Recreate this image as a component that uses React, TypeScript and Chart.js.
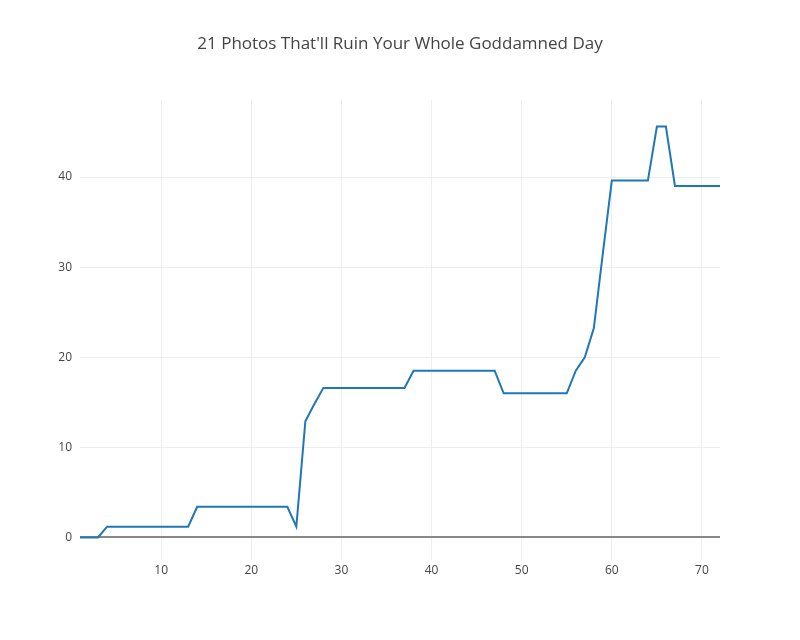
import { useEffect, useRef } from "react";
import { Chart, registerables } from "chart.js";

Chart.register(...registerables);

const days = Array.from({ length: 72 }, (_, i) => i + 1);
const values = [
  0, 0, 0, 1.2, 1.2, 1.2, 1.2, 1.2, 1.2, 1.2,
  1.2, 1.2, 1.2, 3.4, 3.4, 3.4, 3.4, 3.4, 3.4, 3.4,
  3.4, 3.4, 3.4, 3.4, 1.2, 12.9, 14.8, 16.6, 16.6, 16.6,
  16.6, 16.6, 16.6, 16.6, 16.6, 16.6, 16.6, 18.5, 18.5, 18.5,
  18.5, 18.5, 18.5, 18.5, 18.5, 18.5, 18.5, 16.0, 16.0, 16.0,
  16.0, 16.0, 16.0, 16.0, 16.0, 18.5, 20.0, 23.2, 31.5, 39.6,
  39.6, 39.6, 39.6, 39.6, 45.6, 45.6, 39.0, 39.0, 39.0, 39.0,
  39.0, 39.0,
];
const xTicks = [10, 20, 30, 40, 50, 60, 70];
const yTicks = [0, 10, 20, 30, 40];

export default function App() {
  const chartRef = useRef<HTMLCanvasElement | null>(null);

  useEffect(() => {
    if (!chartRef.current) return;
    document.body.style.margin = "0";
    const font = { family: "'Open Sans', sans-serif", size: 12 };

    const chart = new Chart(chartRef.current, {
      type: "line",
      data: {
        datasets: [
          {
            data: days.map((d, i) => ({ x: d, y: values[i] })),
            borderColor: "#1f77b4",
            borderWidth: 2,
            pointRadius: 0,
            tension: 0,
          },
        ],
      },
      options: {
        animation: false,
        responsive: false,
        layout: { padding: 0 },
        plugins: {
          legend: { display: false },
          tooltip: { enabled: false },
          title: {
            display: true,
            text: "21 Photos That'll Ruin Your Whole Goddamned Day",
            color: "#444",
            font: { family: "'Open Sans', sans-serif", size: 17, weight: "normal" },
            padding: { top: 34, bottom: 46 },
          },
        },
        scales: {
          x: {
            type: "linear",
            min: 1,
            max: 72,
            afterBuildTicks: (s) => {
              s.ticks = xTicks.map((v) => ({ value: v }));
            },
            afterFit: (s) => {
              s.height = 80;
            },
            border: { display: false },
            grid: { color: "#eeeeee", drawTicks: false },
            ticks: { color: "#444", font, padding: 3, maxRotation: 0 },
          },
          y: {
            min: -2.5,
            max: 48.5,
            afterBuildTicks: (s) => {
              s.ticks = yTicks.map((v) => ({ value: v }));
            },
            afterFit: (s) => {
              s.width = 80;
            },
            border: { display: false },
            grid: {
              color: (c) => (c.tick && c.tick.value === 0 ? "#888" : "#eeeeee"),
              lineWidth: (c) => (c.tick && c.tick.value === 0 ? 2 : 1),
              drawTicks: false,
            },
            ticks: { color: "#444", font, padding: 8 },
          },
          yRight: {
            position: "right",
            afterFit: (s) => {
              s.width = 80;
            },
            border: { display: false },
            grid: { display: false },
            ticks: { display: false },
          },
        },
      },
    });

    return () => {
      chart.destroy();
    };
  }, []);

  return <canvas ref={chartRef} width={800} height={640}></canvas>;
}
